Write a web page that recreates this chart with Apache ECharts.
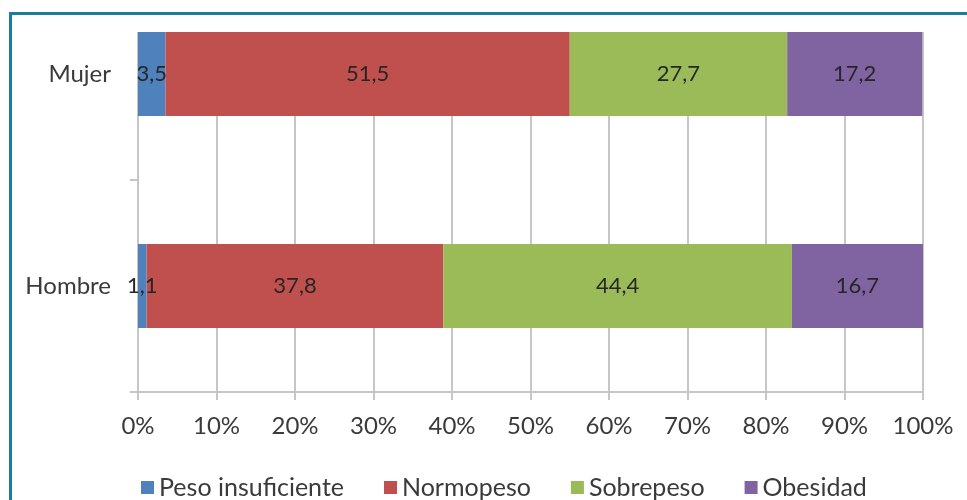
<!DOCTYPE html>
<html>
<head>
<meta charset="utf-8">
<script src="https://cdn.jsdelivr.net/npm/echarts@6/dist/echarts.min.js"></script>
<style>
  html, body { margin: 0; padding: 0; background: #fff; overflow: hidden; }
  /* the chart is 32px taller than the window and shifted up, so the
     category bands can start above the visible plot like the original */
  #chart { position: relative; top: -32px; width: 967px; height: 532px; }
</style>
</head>
<body>
<div id="chart"></div>
<script>
// categories go bottom to top on the category axis
const categories = ['Hombre', 'Mujer'];
const pesoInsuficiente = [1.1, 3.5];
const normopeso = [37.8, 51.5];
const sobrepeso = [44.4, 27.7];
const obesidad = [16.7, 17.2];

const seriesNames = ['Peso insuficiente', 'Normopeso', 'Sobrepeso', 'Obesidad'];
const seriesValues = [pesoInsuficiente, normopeso, sobrepeso, obesidad];
const seriesColors = ['#4f81bd', '#c0504d', '#9bbb59', '#8064a2'];

const FONT = 'Lato';
const gridColor = '#c6c6c6';
const SHIFT = 32; // page y = chart y - SHIFT

const chart = echarts.init(document.getElementById('chart'));

const option = {
    animation: false,
    textStyle: { fontFamily: FONT },
    legend: {
        data: seriesNames,
        left: 136,
        top: 470 + SHIFT,
        itemWidth: 13,
        itemHeight: 13,
        itemGap: 40,
        icon: 'rect',
        textStyle: { fontSize: 25, color: '#3a3a3a', fontFamily: FONT }
    },
    grid: [
        // grid 0: value axis, grid lines and percent labels
        { left: 138, right: 44, top: 32 + SHIFT, bottom: 108 },
        // grid 1: the bars, category band is taller than the visible plot
        { left: 138, right: 44, top: 0, bottom: 108 }
    ],
    xAxis: [
        {
            gridIndex: 0,
            type: 'value',
            min: 0,
            max: 100,
            interval: 10,
            axisLine: { show: true, lineStyle: { color: gridColor, width: 2 } },
            axisTick: { show: true, length: 8, lineStyle: { color: gridColor, width: 2 } },
            splitLine: { show: true, lineStyle: { color: gridColor, width: 2 } },
            axisLabel: {
                formatter: '{value}%',
                fontSize: 24,
                color: '#3a3a3a',
                margin: 22
            }
        },
        { gridIndex: 1, type: 'value', min: 0, max: 100, show: false }
    ],
    yAxis: [
        { gridIndex: 0, type: 'value', show: false },
        {
            gridIndex: 1,
            type: 'category',
            data: categories,
            axisLine: { show: false },
            axisTick: { show: true, length: 8, lineStyle: { color: gridColor, width: 2 } },
            axisLabel: { fontSize: 24, color: '#3a3a3a', margin: 27 }
        }
    ],
    series: seriesNames.map((name, i) => ({
        name: name,
        type: 'bar',
        stack: 'total',
        xAxisIndex: 1,
        yAxisIndex: 1,
        barWidth: 84,
        itemStyle: { color: seriesColors[i] },
        label: {
            show: true,
            position: 'inside',
            fontSize: 22,
            color: '#262626',
            formatter: p => String(p.value).replace('.', ',')
        },
        data: seriesValues[i]
    })),
    graphic: [
        {
            type: 'rect',
            z: 100,
            shape: { x: 10.5, y: 13.5 + SHIFT, width: 1000, height: 600 },
            style: { fill: 'none', stroke: '#1b7d9b', lineWidth: 3 }
        }
    ]
};

chart.setOption(option);
</script>
</body>
</html>
